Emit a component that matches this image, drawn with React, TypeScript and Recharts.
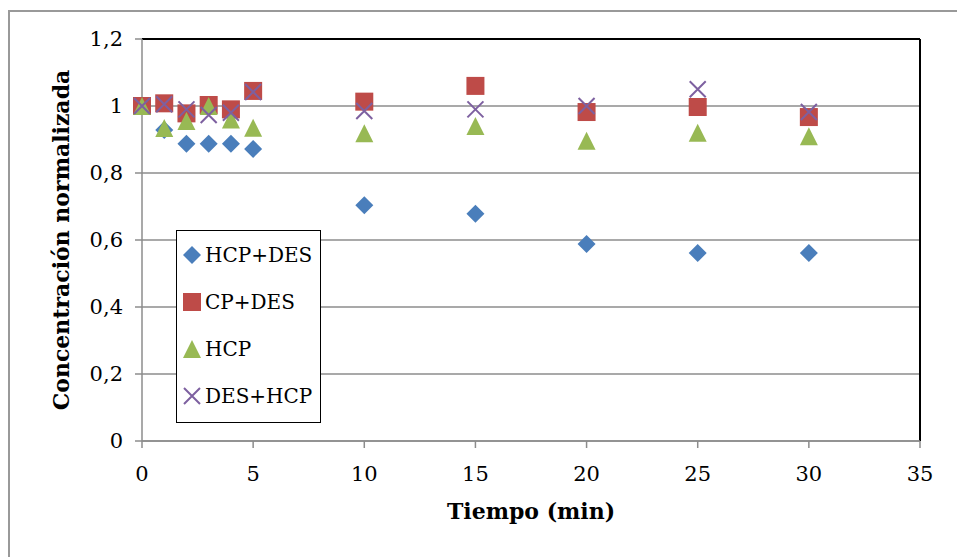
import { ScatterChart, Scatter, XAxis, YAxis, CartesianGrid, ReferenceLine } from 'recharts'

// tiempo (min) y concentración normalizada
const tiempos = [0, 1, 2, 3, 4, 5, 10, 15, 20, 25, 30]
const hcpDes = [1.0, 0.928, 0.887, 0.887, 0.887, 0.872, 0.704, 0.678, 0.588, 0.561, 0.561]
const cpDes = [1.0, 1.008, 0.978, 1.003, 0.99, 1.045, 1.013, 1.06, 0.982, 0.997, 0.967]
const hcp = [1.0, 0.934, 0.955, 1.0, 0.96, 0.935, 0.919, 0.94, 0.896, 0.92, 0.91]
const desHcp = [1.0, 1.005, 0.99, 0.973, 0.98, 1.042, 0.985, 0.99, 1.0, 1.05, 0.982]

const xTicks = [0, 5, 10, 15, 20, 25, 30, 35]
const yTicks = [0, 0.2, 0.4, 0.6, 0.8, 1, 1.2]

const toRows = (vals: number[]) => tiempos.map((t, i) => ({ t, v: vals[i] }))

const FONT = '"DejaVu Serif", "Liberation Serif", serif'
const GRID = '#8c8c8c'

const series = [
  { name: 'HCP+DES', data: toRows(hcpDes), color: '#4a7ebb', shape: 'diamond' },
  { name: 'CP+DES', data: toRows(cpDes), color: '#be4b48', shape: 'square' },
  { name: 'HCP', data: toRows(hcp), color: '#98b954', shape: 'triangle' },
  { name: 'DES+HCP', data: toRows(desHcp), color: '#7d60a0', shape: 'x' },
]

function Marker({ cx, cy, kind, color }: { cx: number; cy: number; kind: string; color: string }) {
  const r = 9
  if (kind === 'diamond')
    return <path d={`M${cx},${cy - r} L${cx + r},${cy} L${cx},${cy + r} L${cx - r},${cy} Z`} fill={color} />
  if (kind === 'square')
    return <rect x={cx - r} y={cy - r} width={2 * r} height={2 * r} fill={color} />
  if (kind === 'triangle')
    return <path d={`M${cx},${cy - r} L${cx + r},${cy + r} L${cx - r},${cy + r} Z`} fill={color} />
  const k = 8
  return (
    <path
      d={`M${cx - k},${cy - k} L${cx + k},${cy + k} M${cx - k},${cy + k} L${cx + k},${cy - k}`}
      stroke={color}
      strokeWidth={2}
      fill="none"
    />
  )
}

const fmtY = (v: number) => String(Math.round(v * 10) / 10).replace('.', ',')

function LegendBox() {
  return (
    <div
      style={{
        position: 'absolute',
        left: 176,
        top: 230,
        width: 145,
        height: 193,
        border: '1.5px solid #000',
        background: '#fff',
        boxSizing: 'border-box',
        fontFamily: FONT,
        fontSize: 20,
        padding: '0 0 0 4px',
      }}
    >
      {series.map((s) => (
        <div key={s.name} style={{ display: 'flex', alignItems: 'center', height: 47 }}>
          <svg width={22} height={22}>
            <Marker cx={11} cy={11} kind={s.shape} color={s.color} />
          </svg>
          <span style={{ marginLeft: 2, color: '#000' }}>{s.name}</span>
        </div>
      ))}
    </div>
  )
}

export default function App() {
  return (
    <div
      style={{
        position: 'absolute',
        left: 0,
        top: 0,
        width: 957,
        height: 557,
        background: '#fff',
        overflow: 'hidden',
      }}
    >
      <div style={{ position: 'absolute', left: 8, top: 10, width: 2, height: 560, background: '#999' }} />
      <div style={{ position: 'absolute', left: 8, top: 10, width: 960, height: 2, background: '#999' }} />
      <div style={{ position: 'absolute', left: 0, top: 0 }}>
        <ScatterChart width={957} height={557} margin={{ top: 39, right: 37, left: 0, bottom: 0 }}>
          <CartesianGrid vertical={false} stroke={GRID} strokeWidth={1.5} />
          <XAxis
            type="number"
            dataKey="t"
            domain={[0, 35]}
            ticks={xTicks}
            interval={0}
            height={116}
            stroke={GRID}
            strokeWidth={1.5}
            tickSize={7}
            tick={{ fill: '#000', fontFamily: FONT, fontSize: 21, dy: 16 }}
            label={{
              value: 'Tiempo (min)',
              position: 'insideTop',
              offset: 62,
              style: { fill: '#000', fontFamily: FONT, fontSize: 22, fontWeight: 'bold' },
            }}
          />
          <YAxis
            type="number"
            dataKey="v"
            domain={[0, 1.2]}
            ticks={yTicks}
            interval={0}
            width={142}
            stroke={GRID}
            strokeWidth={1.5}
            tickSize={7}
            tickFormatter={fmtY}
            tick={{ fill: '#000', fontFamily: FONT, fontSize: 21, dx: -10 }}
            label={{
              value: 'Concentración normalizada',
              angle: -90,
              position: 'insideLeft',
              offset: 61,
              style: { textAnchor: 'middle', fill: '#000', fontFamily: FONT, fontSize: 22, fontWeight: 'bold' },
            }}
          />
          <ReferenceLine y={1.2} stroke="#000" strokeWidth={2} />
          <ReferenceLine x={35} stroke="#000" strokeWidth={2} />
          {series.map((s) => (
            <Scatter
              key={s.name}
              name={s.name}
              data={s.data}
              fill={s.color}
              isAnimationActive={false}
              shape={(p: any) => <Marker cx={p.cx} cy={p.cy} kind={s.shape} color={s.color} />}
            />
          ))}
        </ScatterChart>
      </div>
      <LegendBox />
    </div>
  )
}
